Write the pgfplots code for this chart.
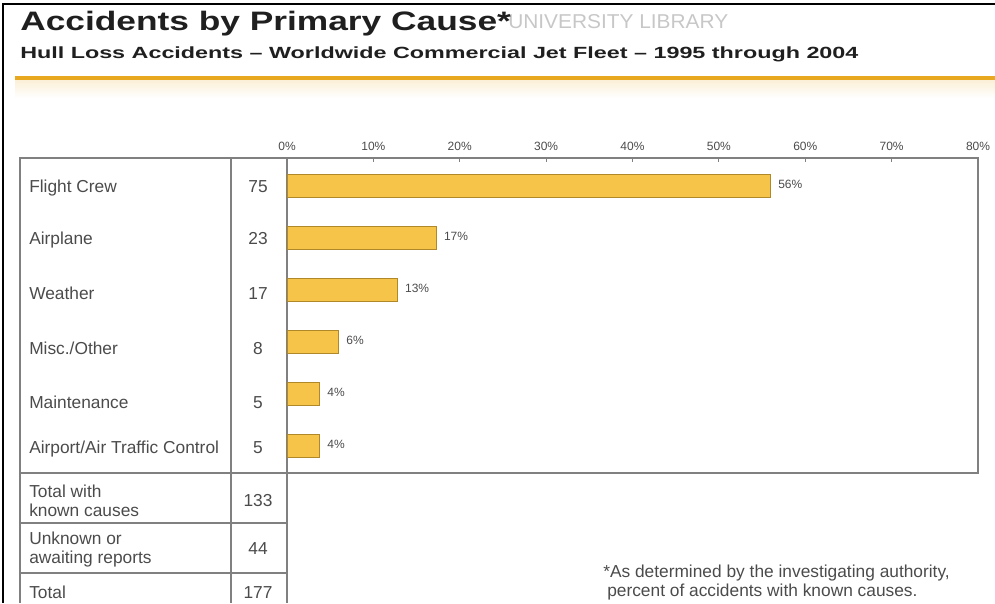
\documentclass[border=0pt]{standalone}
\usepackage{fontspec}
\setmainfont{Liberation Sans}
\usepackage{graphicx}
\usepackage{pgfplots}
\usepackage{pgfplotstable}
\pgfplotsset{compat=1.18}
\definecolor{barc}{RGB}{246,196,72}
\definecolor{bardk}{RGB}{176,136,40}
\definecolor{gold}{RGB}{232,168,32}
\definecolor{frame}{RGB}{128,128,128}
\definecolor{txt}{RGB}{75,75,75}

\pgfplotstableread{
y pct label
0 56.0 56
1 17.3 17
2 12.8 13
3 6.0 6
4 3.8 4
5 3.8 4
}\causes

\begin{document}
\begin{tikzpicture}
\begin{scope}[x=0.75pt,y=-0.75pt]
\path[use as bounding box] (0,0) rectangle (995,603);
% outer black frame
\draw[black, line width=1.8pt] (3,603) -- (3,4) -- (995,4);
% watermark
\node[anchor=base west, inner sep=0, text=black!22] at (508,29) {\resizebox{165pt}{10.5pt}{UNIVERSITY LIBRARY}};
% title and subtitle
\node[anchor=base west, inner sep=0, text=black!88] at (20,31) {\resizebox{368pt}{14.5pt}{\bfseries Accidents by Primary Cause*}};
\node[anchor=base west, inner sep=0, text=black!88] at (20,58) {\resizebox{628.5pt}{8.8pt}{\bfseries Hull Loss Accidents – Worldwide Commercial Jet Fleet – 1995 through 2004}};
% gold rule
\shade[top color=gold!18, bottom color=white] (15,80) rectangle (995,98);
\draw[gold, line width=3pt] (15,78) -- (995,78);
% table lines
\draw[frame, line width=1.1pt] (20,603) -- (20,158) -- (287,158);
\draw[frame, line width=1.1pt] (231,158) -- (231,603);
\draw[frame, line width=1.1pt] (287,473) -- (287,603);
\draw[frame, line width=1.6pt] (20,473) -- (287,473);
\draw[frame, line width=1.1pt] (20,523) -- (287,523);
\draw[frame, line width=1.1pt] (20,573) -- (287,573);
% table text
\begin{scope}[every node/.style={inner sep=0, text=txt, font=\fontsize{13}{15}\selectfont}]
\node[anchor=base west] at (29,192) {Flight Crew};
\node[anchor=base west] at (29,244) {Airplane};
\node[anchor=base west] at (29,299) {Weather};
\node[anchor=base west] at (29,354) {Misc./Other};
\node[anchor=base west] at (29,408) {Maintenance};
\node[anchor=base west] at (29,453) {Airport/Air Traffic Control};
\node[anchor=base] at (258,192) {75};
\node[anchor=base] at (258,244) {23};
\node[anchor=base] at (258,299) {17};
\node[anchor=base] at (258,354) {8};
\node[anchor=base] at (258,408) {5};
\node[anchor=base] at (258,453) {5};
\node[anchor=base west] at (29,497) {Total with};
\node[anchor=base west] at (29,516) {known causes};
\node[anchor=base] at (258,506) {133};
\node[anchor=base west] at (29,544) {Unknown or};
\node[anchor=base west] at (29,563) {awaiting reports};
\node[anchor=base] at (258,554) {44};
\node[anchor=base west] at (29,598) {Total};
\node[anchor=base] at (258,598) {177};
\end{scope}
% footnote
\node[anchor=base west, inner sep=0, text=txt, font=\fontsize{13}{15}\selectfont] at (603,577) {*As determined by the investigating authority,};
\node[anchor=base west, inner sep=0, text=txt, font=\fontsize{13}{15}\selectfont] at (607,596) {percent of accidents with known causes.};
\end{scope}
\begin{axis}[
  at={(215.25pt,-354.75pt)}, anchor=south west,
  scale only axis, width=518.25pt, height=236.25pt,
  xbar, bar width=0.44,
  xmin=0, xmax=80, ymin=-0.538, ymax=5.519, y dir=reverse,
  ytick=\empty,
  xtick={0,10,...,80}, xtick pos=right, xticklabel pos=right,
  tick align=inside, major tick length=3pt,
  xticklabel={\pgfmathprintnumber{\tick}\%},
  /pgf/number format/assume math mode=true,
  xticklabel style={font=\fontsize{9}{10}\selectfont, text=txt, yshift=2pt},
  axis line style={draw=frame, line width=1.1pt},
  tick style={draw=frame, line width=0.6pt},
  point meta=explicit symbolic,
  nodes near coords={\pgfplotspointmeta\%},
  nodes near coords style={font=\fontsize{9}{10}\selectfont, text=txt, anchor=west, xshift=2pt, yshift=1pt},
  clip=false,
]
\addplot[fill=barc, draw=bardk, line width=0.7pt] table[x=pct, y=y, meta=label]{\causes};
\end{axis}
\end{tikzpicture}
\end{document}
